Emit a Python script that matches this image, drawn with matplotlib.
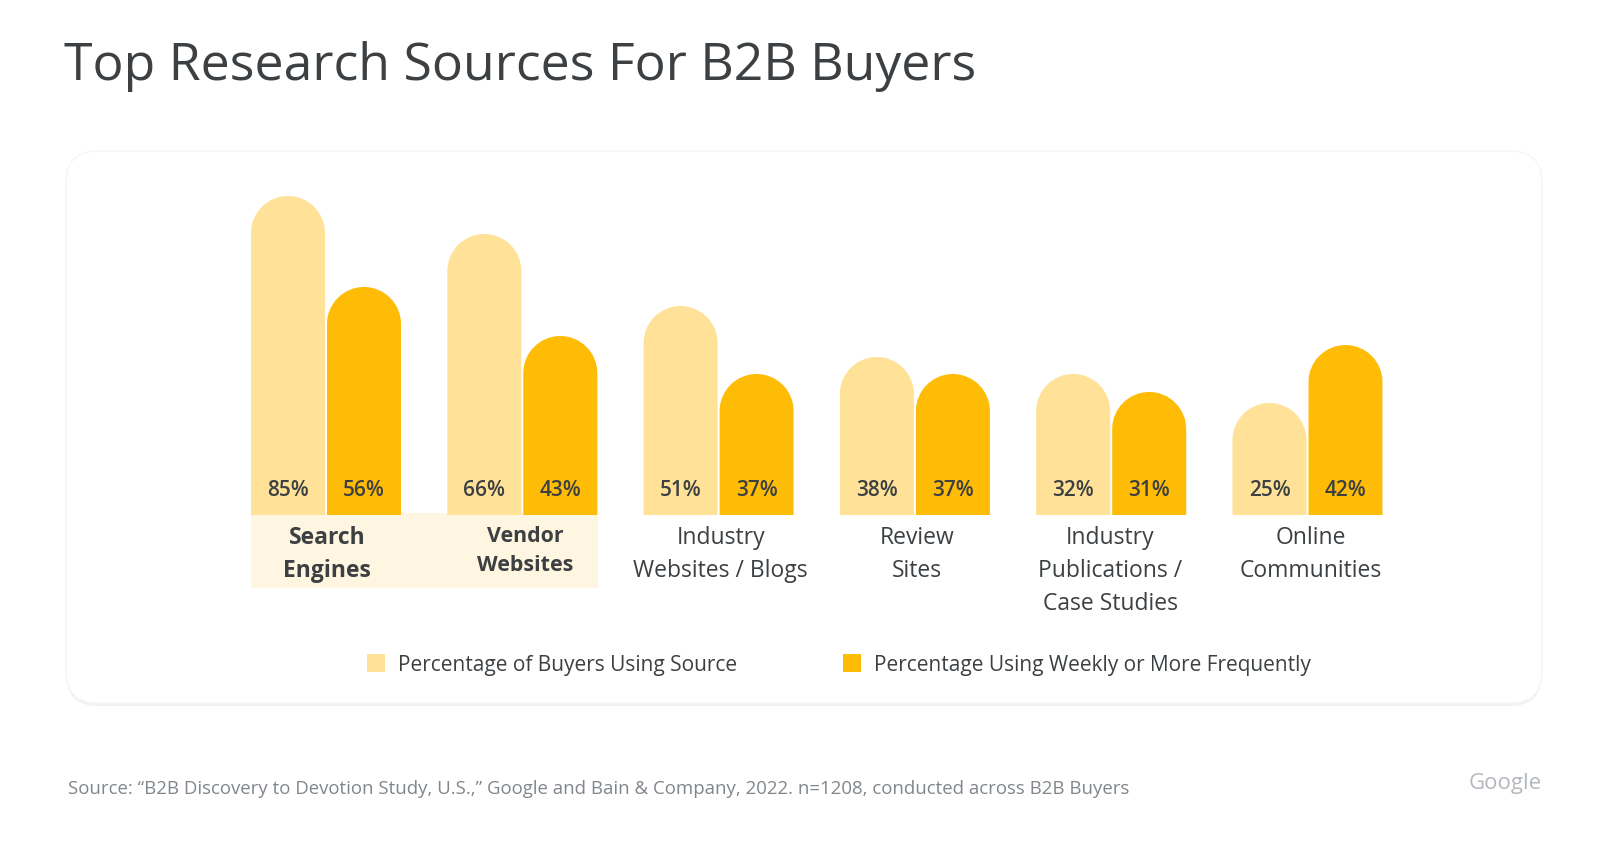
import matplotlib
matplotlib.use("Agg")
import matplotlib.pyplot as plt
from matplotlib.patches import FancyBboxPatch, PathPatch, Patch, Rectangle
from matplotlib.path import Path

plt.rcParams["font.family"] = ["Open Sans", "DejaVu Sans"]

W, H = 1600, 852

# data
categories = ["Search\nEngines", "Vendor\nWebsites", "Industry\nWebsites / Blogs", "Review\nSites",
              "Industry\nPublications /\nCase Studies", "Online\nCommunities"]
pct_using = [85, 66, 51, 38, 32, 25]
pct_weekly = [56, 43, 37, 37, 31, 42]
# the drawn bars are not strictly proportional to the percentages, so heights are kept apart
height_using = [319, 281, 209, 158, 141, 112]
height_weekly = [228, 179, 141, 141, 123, 170]
legend_labels = ["Percentage of Buyers Using Source", "Percentage Using Weekly or More Frequently"]

LIGHT = "#FFE298"
DARK = "#FFBC06"
INK = "#3C4043"

# spacing of groups and width of bars, in pixels of the output
GROUP_PX = 196.3
BAR_PX = 74
GAP_PX = 2
FIRST_CENTER = 326
BASE_Y = 515
# labels sit a little off the group centre in the reference
LABEL_NUDGE_PX = [1, 3, 2, 2, -1, 3]


def fx(px):
    return px / W


def fy(py):
    return 1 - py / H


def rounded_bar(ax, x0, width, height, rx, ry, color):
    # bar with a half round top
    k = 0.5523
    x1 = x0 + width
    xm = x0 + width / 2
    top = height
    verts = [(x0, 0), (x0, top - ry),
             (x0, top - ry + k * ry), (xm - k * rx, top), (xm, top),
             (xm + k * rx, top), (x1, top - ry + k * ry), (x1, top - ry),
             (x1, 0), (x0, 0)]
    codes = [Path.MOVETO, Path.LINETO, Path.CURVE4, Path.CURVE4, Path.CURVE4,
             Path.CURVE4, Path.CURVE4, Path.CURVE4, Path.LINETO, Path.CLOSEPOLY]
    ax.add_patch(PathPatch(Path(verts, codes), facecolor=color, edgecolor="none", zorder=3))


fig = plt.figure(figsize=(W / 100, H / 100), dpi=100, facecolor="white")

# card behind the chart, with a faint shadow along the bottom
bg = fig.add_axes([0, 0, 1, 1], zorder=0)
bg.set_xlim(0, W)
bg.set_ylim(H, 0)
bg.axis("off")
for offset, col in [(3, "#F0F0F0"), (1.5, "#F5F5F5")]:
    bg.add_patch(FancyBboxPatch((66, 151 + offset), 1476, 552, boxstyle="round,pad=0,rounding_size=32",
                                facecolor=col, edgecolor="none"))
bg.add_patch(FancyBboxPatch((66, 151), 1476, 552, boxstyle="round,pad=0,rounding_size=32",
                            facecolor="white", edgecolor="#F6F6F6", linewidth=1))
bg.add_patch(Rectangle((251, 513), 347, 75, facecolor="#FFF6E1", edgecolor="none"))

# axes in pixel sized y units, x in group units
left_px, right_px, top_px = 200, 1500, 170
ax = fig.add_axes([fx(left_px), fy(BASE_Y), fx(right_px - left_px), fy(top_px) - fy(BASE_Y)], zorder=1)
ax.patch.set_alpha(0)
ax.set_xlim((left_px - FIRST_CENTER) / GROUP_PX, (right_px - FIRST_CENTER) / GROUP_PX)
ax.set_ylim(0, BASE_Y - top_px)
for s in ax.spines.values():
    s.set_visible(False)

bar_w = BAR_PX / GROUP_PX
gap = GAP_PX / GROUP_PX
ry = BAR_PX / 2

for i in range(len(categories)):
    x_light = i - gap / 2 - bar_w
    x_dark = i + gap / 2
    rounded_bar(ax, x_light, bar_w, height_using[i], bar_w / 2, ry, LIGHT)
    rounded_bar(ax, x_dark, bar_w, height_weekly[i], bar_w / 2, ry, DARK)
    ax.text(x_light + bar_w / 2, 25, f"{pct_using[i]}%", ha="center", va="center",
            fontsize=15, fontweight=600, color=INK, zorder=4)
    ax.text(x_dark + bar_w / 2, 25, f"{pct_weekly[i]}%", ha="center", va="center",
            fontsize=15, fontweight=600, color=INK, zorder=4)

ax.set_yticks([])
ax.set_xticks([i + LABEL_NUDGE_PX[i] / GROUP_PX for i in range(len(categories))])
ax.set_xticklabels(categories, fontsize=16.5, color=INK, linespacing=1.5)
ax.tick_params(axis="x", length=0, pad=8)
for j, lab in enumerate(ax.get_xticklabels()):
    if j < 2:
        lab.set_fontweight("bold")
    if j == 1:
        lab.set_fontsize(15.4)
        lab.set_linespacing(1.5)

handles = [Patch(facecolor=LIGHT, edgecolor="none"), Patch(facecolor=DARK, edgecolor="none")]
fig.legend(handles, legend_labels, ncol=2, frameon=False, loc="center",
           bbox_to_anchor=(fx(839), fy(665)), fontsize=15, labelcolor=INK,
           handlelength=0.87, handleheight=0.95, handletextpad=0.6, columnspacing=5.1)

fig.text(fx(64), fy(66), "Top Research Sources For B2B Buyers", fontsize=37.3, color=INK, va="center", ha="left")
fig.text(fx(68), fy(789),
         "Source: \u201cB2B Discovery to Devotion Study, U.S.,\u201d Google and Bain & Company, 2022. n=1208, conducted across B2B Buyers",
         fontsize=13.4, color="#80868B", va="center", ha="left")
fig.text(fx(1542), fy(783), "Google", fontsize=16, color="#B4B8BD", va="center", ha="right")

fig.savefig("out.png", dpi=100)
